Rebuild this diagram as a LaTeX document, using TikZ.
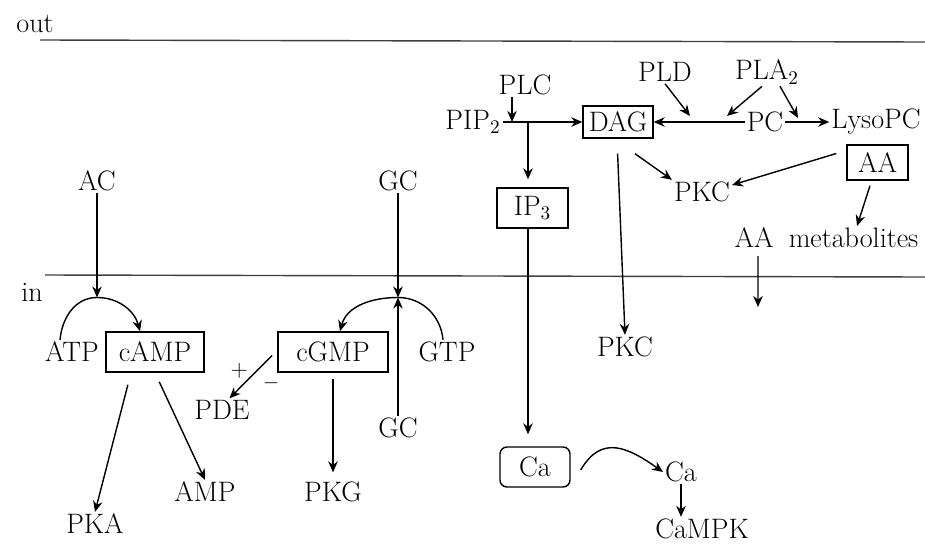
\documentclass[tikz,border=0pt]{standalone}
\usepackage{tikz}
\usetikzlibrary{arrows.meta, positioning}

\begin{document}
\begin{tikzpicture}[
    font=\fontsize{16}{19}\selectfont,
    txt/.style={inner sep=1pt},
    box/.style={rectangle, draw, thick, inner sep=1pt, minimum height=0.8cm},
    arr/.style={-{Stealth[length=2.2mm, width=1.9mm]}, thick},
    sign/.style={font=\fontsize{13}{15}\selectfont, inner sep=0pt},
    membrane/.style={thick, color=black!75}
  ]
    \useasboundingbox (0,0) rectangle (18.5,-10.88);

    %% membrane
    \node[txt] (outside) at (0.7,-0.48) {out};
    \node[txt] (inside) at (0.64,-5.84) {in};
    \draw[membrane] (0.8,-0.8) -- (18.5,-0.84);
    \draw[membrane] (0.9,-5.5) -- (18.5,-5.54);

    %% cAMP branch
    \node[txt] (ac) at (1.94,-3.62) {AC};
    \node[txt] (atp) at (1.44,-7.04) {ATP};
    \node[box, minimum width=1.96cm] (camp) at (3.1,-7.04) {cAMP};
    \node[txt] (pka) at (1.9,-10.48) {PKA};
    \node[txt] (amp) at (4.1,-9.84) {AMP};
    \coordinate (atppeak) at (1.94,-5.95);
    \draw[arr] ([xshift=-0.24cm]atp.north) to[out=85, in=180] (atppeak)
        to[out=0, in=105] ([xshift=-0.3cm]camp.north);
    \draw[arr] (ac) -- (atppeak);
    \draw[arr, shorten <=0.25cm] ([xshift=-0.48cm]camp.south) -- (pka.north);
    \draw[arr, shorten <=0.2cm] (camp.south) -- (amp.north);

    %% cGMP branch
    \node[txt] (gc) at (7.96,-3.62) {GC};
    \node[box, minimum width=2.2cm] (cgmp) at (6.66,-7.04) {cGMP};
    \node[txt] (gtp) at (8.94,-7.04) {GTP};
    \node[txt] (pde) at (4.44,-8.2) {PDE};
    \node[txt] (gcin) at (7.96,-8.56) {GC};
    \node[txt] (pkg) at (6.66,-9.84) {PKG};
    \coordinate (gtppeak) at (7.96,-5.95);
    \draw[arr] ([xshift=-0.08cm]gtp.north) to[out=95, in=0] (gtppeak)
        to[out=180, in=75] ([xshift=0.14cm]cgmp.north);
    \draw[arr] (gc) -- (gtppeak);
    \draw[arr] (gcin) -- (gtppeak);
    \draw[arr] ([xshift=-3pt, yshift=-2pt]cgmp.west) -- ([xshift=0.15cm]pde.north)
        node[sign, pos=0.55, above left=0pt] (plus) {+}
        node[sign, pos=0.35, below right=4pt] (minus) {$-$};
    \draw[arr, shorten <=0.12cm, shorten >=0.15cm] (cgmp.south) -- (pkg.north);

    %% PIP2 / PC branch
    \node[txt] (plc) at (10.5,-1.7) {PLC};
    \node[txt] (pip) at (9.46,-2.44) {PIP$_2$};
    \node[box, minimum width=1.4cm, minimum height=0.64cm] (dag) at (12.36,-2.44) {DAG};
    \node[box, minimum width=1.42cm] (ipthree) at (10.65,-4.16) {IP$_3$};
    \node[txt] (pld) at (13.3,-1.44) {PLD};
    \node[txt] (pla) at (15.34,-1.44) {PLA$_2$};
    \node[txt] (pc) at (15.3,-2.44) {PC};
    \node[txt] (lyso) at (17.52,-2.44) {LysoPC};
    \node[box, minimum width=1.22cm, minimum height=0.7cm] (aa) at (17.55,-3.25) {AA};
    \node[txt] (pkc) at (14.04,-3.84) {PKC};
    \node[txt] (aafree) at (15.08,-4.76) {AA};
    \node[txt] (metab) at (17.07,-4.76) {metabolites};
    \node[txt] (pkclow) at (12.5,-6.94) {PKC};

    \coordinate (plchit) at (10.24,-2.44);
    \coordinate (split) at (10.56,-2.44);
    \coordinate (pldhit) at (13.8,-2.32);
    \coordinate (plahit) at (14.54,-2.32);
    \coordinate (lysohit) at (15.96,-2.36);
    \coordinate (aaout) at (15.16,-6.14);

    \draw[arr] (pip.east |- split) -- (dag.west);
    \draw[arr] ([xshift=-0.26cm]plc.south) -- (plchit);
    \draw[arr, shorten >=0.16cm] (split) -- (split |- ipthree.north);
    \draw[arr] (pc.west) -- (dag.east);
    \draw[arr] (pc.east) -- (lyso.west);
    \draw[arr] (pld.south) -- (pldhit);
    \draw[arr] ([xshift=-0.1cm]pla.south) -- (plahit);
    \draw[arr] ([xshift=0.26cm]pla.south) -- (lysohit);
    \draw[arr] ([xshift=0.34cm, yshift=-0.3cm]dag.south) -- (pkc.north west);
    \draw[arr, shorten <=0.3cm] ([xshift=-0.02cm]dag.south) -- (pkclow.north);
    \draw[arr] ([xshift=-0.2cm, yshift=0.18cm]aa.west) -- ([yshift=0.14cm]pkc.east);
    \draw[arr] ([xshift=-0.15cm, yshift=-0.1cm]aa.south) -- ([xshift=0.07cm]metab.north);
    \draw[arr] ([xshift=0.08cm, yshift=-0.12cm]aafree.south) -- (aaout);

    %% calcium
    \node[box, rounded corners=4pt, minimum width=1.4cm] (ca) at (10.7,-9.34) {Ca};
    \node[txt] (catwo) at (13.62,-9.44) {Ca};
    \node[txt] (campk) at (14.04,-10.58) {CaMPK};
    \draw[arr, shorten >=0.24cm] (ipthree.south -| split) -- (split |- ca.north);
    \draw[arr] ([xshift=0.2cm, yshift=-0.06cm]ca.east) to[out=60, in=145, looseness=1.3] (catwo.west);
    \draw[arr] (catwo.south) -- (catwo.south |- campk.north);
\end{tikzpicture}
\end{document}
